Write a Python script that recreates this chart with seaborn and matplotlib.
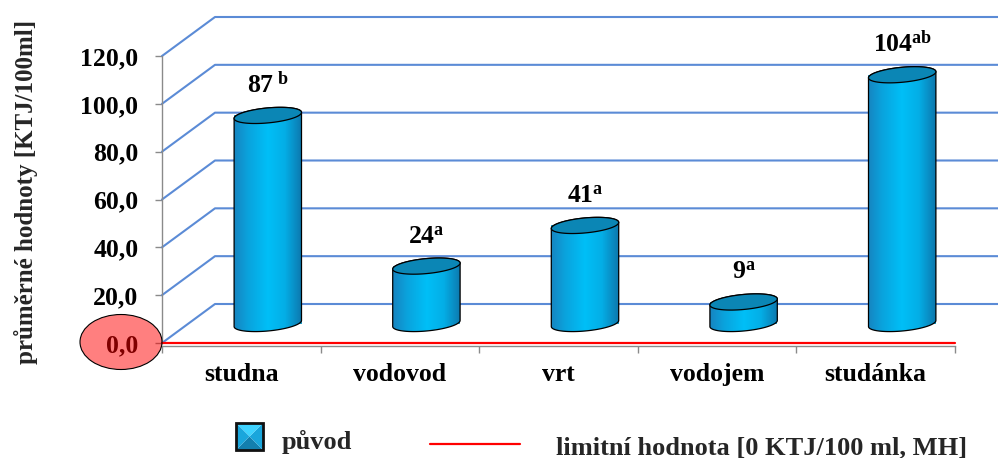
import numpy as np
import pandas as pd
import matplotlib
matplotlib.use("Agg")
import matplotlib.pyplot as plt
import seaborn as sns
from matplotlib.patches import PathPatch, Ellipse, Polygon, Rectangle
from matplotlib.path import Path
from matplotlib.transforms import IdentityTransform, Affine2D
from matplotlib.lines import Line2D
from matplotlib.colors import LinearSegmentedColormap

# ---- data -------------------------------------------------------------
categories = ["studna", "vodovod", "vrt", "vodojem", "studánka"]
values = [87, 24, 41, 9, 104]
letters = [" b", "a", "a", "a", "ab"]
limit_value = 0
y_ticks = [0, 20, 40, 60, 80, 100, 120]
y_tick_labels = ["0,0", "20,0", "40,0", "60,0", "80,0", "100,0", "120,0"]
y_title = "průměrné hodnoty [KTJ/100ml]"
series_name = "původ"
limit_name = "limitní hodnota [0 KTJ/100 ml, MH]"

# ---- look -------------------------------------------------------------
W, H, DPI = 998, 458, 100
sns.set_theme(style="white")
plt.rcParams["font.family"] = ["Liberation Serif", "DejaVu Serif"]
plt.rcParams["font.weight"] = "bold"
plt.rcParams["mathtext.fontset"] = "custom"
plt.rcParams["mathtext.bf"] = "Liberation Serif:bold"
plt.rcParams["mathtext.rm"] = "Liberation Serif:bold"
plt.rcParams["mathtext.it"] = "Liberation Serif:bold"

GRID = "#5b8bd6"
AXIS = "#8a8a8a"
TOP = "#0b86b5"
body_cmap = LinearSegmentedColormap.from_list(
    "cyl", [(0.0, "#1784c0"), (0.2, "#0aa2dc"), (0.5, "#00bff7"),
            (0.75, "#04aee6"), (1.0, "#0d77ad")])

DEPTH = np.array([53.0, 39.0])      # back wall offset in pixels
HALF = DEPTH / 2                     # cylinders stand mid-depth
SHEAR = 0.09                         # perspective tilt of the ellipses
ELL_B = 7.5                          # ellipse half-height (px)

fig = plt.figure(figsize=(W / DPI, H / DPI), dpi=DPI)
fx0, fx1, fy0, fy1 = 162, 955, 343, 56
ax = fig.add_axes([fx0 / W, (H - fy0) / H, (fx1 - fx0) / W, (fy0 - fy1) / H])
ax.set_facecolor("none")

df = pd.DataFrame({"puvod": categories, "hodnota": values})
sns.barplot(data=df, x="puvod", y="hodnota", width=0.425, color="#00b4ec",
            linewidth=0, ax=ax, zorder=3)
ax.set_xlim(-0.5, len(categories) - 0.5)
ax.set_ylim(y_ticks[0], y_ticks[-1])
ax.set_autoscale_on(False)
ax.set_xlabel("")
ax.set_ylabel("")

ident = IdentityTransform()

# ---- back wall gridlines ---------------------------------------------
for v in y_ticks:
    front = ax.transData.transform((-0.5, v))
    back = front + DEPTH
    ax.add_line(Line2D([front[0], back[0], W + 5], [front[1], back[1], back[1]],
                       transform=ident, clip_on=False, color=GRID, lw=1.5,
                       zorder=1))


def ellipse_xy(cx, cy, a, t):
    return cx + a * np.cos(t), cy + ELL_B * np.sin(t) + SHEAR * a * np.cos(t)


# ---- cylinders built on the seaborn bars ------------------------------
for bar, val, sup in zip(ax.patches, values, letters):
    bar.set_transform(ax.transData + Affine2D().translate(*HALF))
    xl, yb = ax.transData.transform((bar.get_x(), 0)) + HALF
    xr, yt = ax.transData.transform((bar.get_x() + bar.get_width(),
                                     bar.get_height())) + HALF
    cx, a = (xl + xr) / 2, (xr - xl) / 2

    t_up = np.linspace(0, np.pi, 60)
    t_low = np.linspace(np.pi, 2 * np.pi, 60)
    ux, uy = ellipse_xy(cx, yt, a, t_up)
    lx, ly = ellipse_xy(cx, yb, a, t_low)
    verts = np.vstack([np.column_stack([ux, uy]), np.column_stack([lx, ly]),
                       [[ux[0], uy[0]]]])
    body = PathPatch(Path(verts, closed=True), transform=ident,
                     facecolor="none", edgecolor="black", lw=0.9, zorder=3.2)
    ax.add_patch(body)

    grad = np.linspace(0, 1, 256)[None, :]
    im = ax.imshow(grad, cmap=body_cmap, aspect="auto", transform=ident,
                   extent=(xl, xr, yb - 12, yt + 12), interpolation="bilinear",
                   zorder=3.1)
    im.set_clip_path(body)

    tt = np.linspace(0, 2 * np.pi, 120)
    ex, ey = ellipse_xy(cx, yt, a, tt)
    ax.add_patch(Polygon(np.column_stack([ex, ey]), closed=True,
                         transform=ident, facecolor=TOP, edgecolor="black",
                         lw=0.9, zorder=3.3))

    label = (r"$\mathbf{" + str(val) + r"}^{\mathbf{"
             + sup.replace(" ", r"\ ") + r"}}$")
    ax.annotate(label, xy=(cx, yt), xycoords=ident, xytext=(0, 23),
                textcoords="offset pixels", ha="center", va="baseline",
                fontsize=18.5, color="black", zorder=6)

# ---- limit line -------------------------------------------------------
ax.plot([-0.5, len(categories) - 0.5], [limit_value, limit_value],
        color="#ff0000", lw=1.6, zorder=4, clip_on=False)

# ---- axes -------------------------------------------------------------
for side in ("top", "right"):
    ax.spines[side].set_visible(False)
for side in ("left", "bottom"):
    ax.spines[side].set_color(AXIS)
    ax.spines[side].set_linewidth(1.0)
ax.spines["bottom"].set_position(("outward", 2.2))

ax.set_yticks(y_ticks, labels=y_tick_labels)
ax.tick_params(axis="y", left=True, length=5, width=1, color=AXIS,
               direction="out", pad=12, labelsize=18.5, labelcolor="black")
ax.set_xticks(range(len(categories)), labels=categories)
ax.set_xticks(np.arange(-0.5, len(categories)), minor=True)
ax.tick_params(axis="x", which="major", bottom=True, length=0, pad=12,
               labelsize=18.5, labelcolor="black")
ax.tick_params(axis="x", which="minor", bottom=True, length=5, width=1,
               color=AXIS, direction="out")
for lab in ax.get_xticklabels() + ax.get_yticklabels():
    lab.set_fontweight("bold")

# highlighted zero value
fig.add_artist(Ellipse((121, H - 342), 82, 55, transform=ident,
                       facecolor=(1, 0, 0, 0.5), edgecolor="black", lw=0.8,
                       zorder=5))

# axis title
fig.text(26 / W, 1 - 192 / H, y_title, rotation=90, ha="center", va="center",
         fontsize=18, fontweight="bold")

# ---- legend -----------------------------------------------------------
ix, iy, isz = 236, H - 450, 27
c = (ix + isz / 2, iy + isz / 2)
corners = [(ix, iy), (ix + isz, iy), (ix + isz, iy + isz), (ix, iy + isz)]
tri_cols = ["#137fae", "#1aa6dc", "#3fd3ff", "#1aa6dc"]
for k, col in enumerate(tri_cols):
    fig.add_artist(Polygon([corners[k], corners[(k + 1) % 4], c], closed=True,
                           transform=ident, facecolor=col, edgecolor="none"))
fig.add_artist(Rectangle((ix, iy), isz, isz, transform=ident,
                         facecolor="none", edgecolor="#111111", lw=2))
fig.text(282 / W, 9 / H, series_name, ha="left", va="baseline", fontsize=19,
         fontweight="bold")
fig.add_artist(Line2D([430, 520], [H - 444, H - 444], transform=ident,
                      color="#ff0000", lw=1.6))
fig.text(556 / W, 4 / H, limit_name, ha="left", va="baseline", fontsize=19,
         fontweight="bold")

fig.savefig("out.png", dpi=DPI, facecolor="white")
